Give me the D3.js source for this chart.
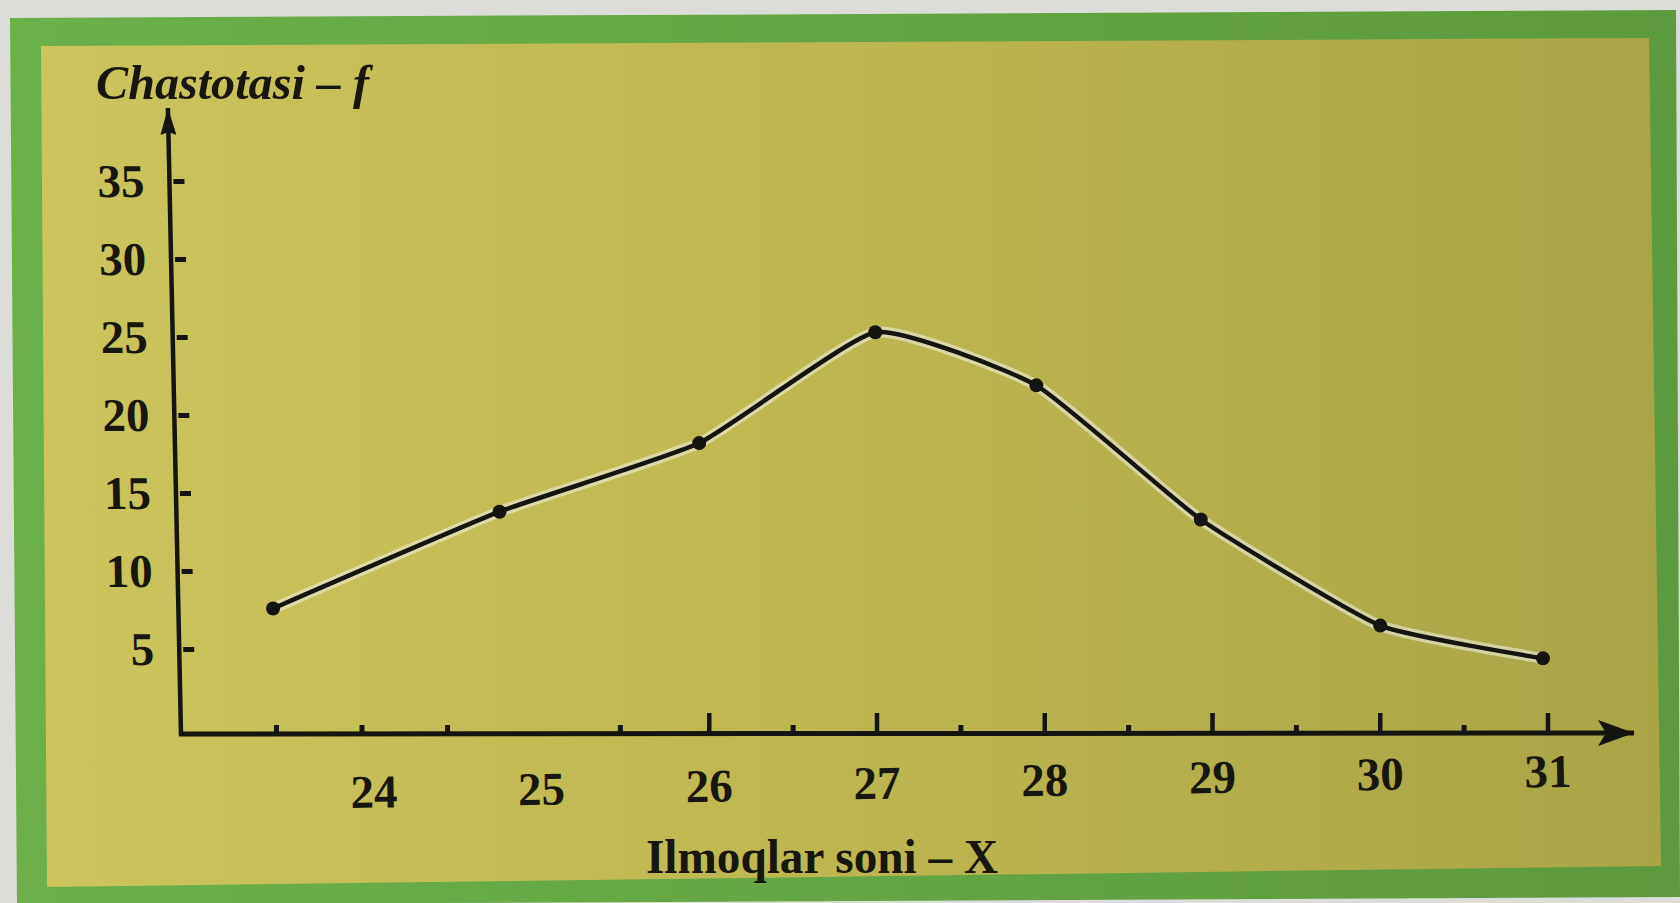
<!DOCTYPE html>
<html>
<head>
<meta charset="utf-8">
<script src="https://cdn.jsdelivr.net/npm/d3@7"></script>
<style>
  html, body { margin: 0; padding: 0; background: #dcddd9; overflow: hidden; }
  svg { display: block; }
  text { font-family: "Liberation Serif", "DejaVu Serif", serif; font-weight: bold; fill: #17170f; }
</style>
</head>
<body>
<svg id="chart" width="1680" height="903"></svg>
<script>
// Number of loops (X) and their frequency (f)
const loopCounts  = [23.4, 24.75, 25.94, 26.99, 27.95, 28.93, 30.0, 30.97];
const frequencies = [7.6, 13.8, 18.2, 25.3, 21.9, 13.3, 6.5, 4.4];

// Axis ticks and labels
const xTickLabels = [24, 25, 26, 27, 28, 29, 30, 31];
const xMajorTicks = [26, 27, 28, 29, 30, 31];
const xMinorTicks = [23.42, 23.93, 24.44, 25.47, 26.5, 27.5, 28.5, 29.5, 30.5];
const yTickValues = [5, 10, 15, 20, 25, 30, 35];

const yTitle = "Chastotasi – f";
const xTitle = "Ilmoqlar soni – X";

const svg = d3.select("#chart");
const defs = svg.append("defs");

// panel and frame fills
const bg = defs.append("linearGradient").attr("id", "panel").attr("x1", "0").attr("x2", "1").attr("y1", "0").attr("y2", "0");
bg.append("stop").attr("offset", "0%").attr("stop-color", "#ccc55d");
bg.append("stop").attr("offset", "45%").attr("stop-color", "#bfb851");
bg.append("stop").attr("offset", "100%").attr("stop-color", "#a9a446");

const fr = defs.append("linearGradient").attr("id", "frame").attr("x1", "0").attr("x2", "1").attr("y1", "0").attr("y2", "0");
fr.append("stop").attr("offset", "0%").attr("stop-color", "#6cb049");
fr.append("stop").attr("offset", "100%").attr("stop-color", "#5d9a3d");

const ink = "#141410";

// arrow heads (both drawn pointing along +x, oriented by the line)
defs.append("marker").attr("id", "arrowY")
  .attr("viewBox", "0 0 27 16").attr("refX", 27).attr("refY", 8)
  .attr("markerWidth", 27).attr("markerHeight", 16).attr("markerUnits", "userSpaceOnUse")
  .attr("orient", "auto")
  .append("path").attr("d", "M0,0 L27,8 L0,16 L3,8 Z").attr("fill", ink);
defs.append("marker").attr("id", "arrowX")
  .attr("viewBox", "0 0 36 26").attr("refX", 36).attr("refY", 13)
  .attr("markerWidth", 36).attr("markerHeight", 26).attr("markerUnits", "userSpaceOnUse")
  .attr("orient", "auto")
  .append("path").attr("d", "M0,0 L36,13 L0,26 L8,13 Z").attr("fill", ink);

// printed frame (page photographed slightly askew)
svg.append("polygon").attr("points", "10,18 1676,10 1680,897 17,905").attr("fill", "url(#frame)");
svg.append("polygon").attr("points", "41,46 1649,38 1661,866 47,887").attr("fill", "url(#panel)");

// scales
const x = d3.scaleLinear().domain([23, 31]).range([206, 1548]);
const y = d3.scaleLinear().domain([0, 35]).range([727, 181]);
const baseY = y(0) + 7;       // x-axis line
const axisX = 181;            // y-axis foot

// y axis (slightly leaning, as printed)
const yAxisG = svg.append("g")
  .attr("transform", `translate(${axisX},0) translate(0,${baseY}) skewX(1.2) translate(0,${-baseY})`);
yAxisG.append("line")
  .attr("x1", 0).attr("y1", baseY + 2).attr("x2", 0).attr("y2", y(35) - 73)
  .attr("stroke", ink).attr("stroke-width", 4.5)
  .attr("marker-end", "url(#arrowY)");
const yAxis = d3.axisLeft(y).tickValues(yTickValues).tickSizeInner(-15).tickSizeOuter(0).tickPadding(25);
const yA = yAxisG.append("g").call(yAxis);
yA.select(".domain").remove();
yA.selectAll(".tick line").attr("stroke", ink).attr("stroke-width", 5).attr("x1", 4);
yA.selectAll(".tick text").attr("font-size", 47).attr("font-family", null).attr("fill", null);

// x axis line
svg.append("line")
  .attr("x1", axisX - 2).attr("y1", baseY).attr("x2", x(31) + 86).attr("y2", baseY - 1)
  .attr("stroke", ink).attr("stroke-width", 5)
  .attr("marker-end", "url(#arrowX)");

// x ticks
svg.append("g").selectAll("line").data(xMajorTicks).join("line")
  .attr("x1", d => x(d)).attr("x2", d => x(d))
  .attr("y1", baseY).attr("y2", baseY - 21)
  .attr("stroke", ink).attr("stroke-width", 4.5);
svg.append("g").selectAll("line").data(xMinorTicks).join("line")
  .attr("x1", d => x(d)).attr("x2", d => x(d))
  .attr("y1", baseY).attr("y2", baseY - 9)
  .attr("stroke", ink).attr("stroke-width", 5);

// x tick labels
svg.append("g").attr("transform", "rotate(-1, 960, 780)")
  .selectAll("text").data(xTickLabels).join("text")
  .attr("x", d => x(d)).attr("y", 781)
  .attr("dy", "0.35em").attr("text-anchor", "middle").attr("font-size", 47)
  .text(d => d);

// titles
svg.append("text").attr("x", 96).attr("y", 99).attr("font-size", 48).attr("font-style", "italic")
  .attr("textLength", 273).attr("lengthAdjust", "spacingAndGlyphs").text(yTitle);
svg.append("text").attr("x", 822).attr("y", 873).attr("text-anchor", "middle").attr("font-size", 48)
  .attr("textLength", 352).attr("lengthAdjust", "spacingAndGlyphs").text(xTitle);

// frequency polygon
const pts = loopCounts.map((v, i) => [x(v), y(frequencies[i])]);
const curve = d3.line().curve(d3.curveCardinal.tension(0.55));
svg.append("path").attr("d", curve(pts)).attr("fill", "none")
  .attr("stroke", "#eeeede").attr("stroke-opacity", 0.6).attr("stroke-width", 11).attr("stroke-linecap", "round");
svg.append("path").attr("d", curve(pts)).attr("fill", "none")
  .attr("stroke", ink).attr("stroke-width", 4.5).attr("stroke-linejoin", "round");
svg.append("g").selectAll("circle").data(pts).join("circle")
  .attr("cx", d => d[0]).attr("cy", d => d[1]).attr("r", 7).attr("fill", ink);
</script>
</body>
</html>
